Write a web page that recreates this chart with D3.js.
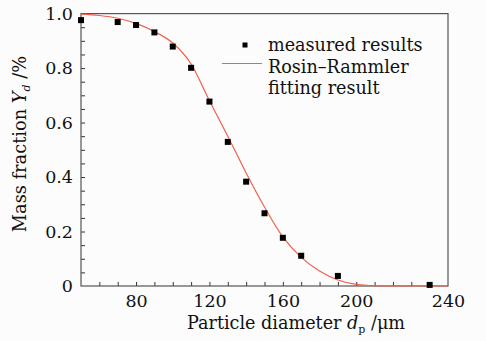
<!DOCTYPE html>
<html>
<head>
<meta charset="utf-8">
<script src="https://cdn.jsdelivr.net/npm/d3@7"></script>
<style>
  html, body { margin: 0; padding: 0; background: #fcfcfc; }
  svg { display: block; font-family: "DejaVu Serif", serif; }
</style>
</head>
<body>
<div id="chart"></div>
<script>
"use strict";

// measured points (particle diameter in um, mass fraction)
var measuredD = [50, 70, 80, 90, 100, 110, 120, 130, 140, 150, 160, 170, 190, 240];
var measuredY = [0.976, 0.969, 0.958, 0.931, 0.879, 0.801, 0.677, 0.529, 0.383, 0.267, 0.177, 0.111, 0.037, 0.004];

// Rosin-Rammler fit
var fitD = [50, 60, 70, 80, 90, 100, 110, 120, 130, 140, 150, 160, 170, 180, 190, 200, 210, 220, 250];
var fitY = [0.998, 0.993, 0.983, 0.964, 0.934, 0.892, 0.815, 0.680, 0.550, 0.415, 0.290, 0.180, 0.105, 0.055, 0.022, 0.006, 0.001, 0, 0];

var xTickValues = [80, 120, 160, 200, 250];
var xTickLabels = ["80", "120", "160", "200", "240"];
var yTickValues = [0, 0.2, 0.4, 0.6, 0.8, 1.0];
var yTickLabels = ["0", "0.2", "0.4", "0.6", "0.8", "1.0"];

var W = 486, H = 341;
var margin = { top: 13.6, right: 38, bottom: 55, left: 81 },
  width = W - margin.left - margin.right,
  height = H - margin.top - margin.bottom;

var x = d3.scaleLinear().domain([50, 250]).range([0, width]);
var y = d3.scaleLinear().domain([0, 1]).range([height, 0]);

var svg = d3
  .select("#chart")
  .append("svg")
  .attr("width", W)
  .attr("height", H);

var g = svg
  .append("g")
  .attr("transform", "translate(" + margin.left + "," + margin.top + ")");

var axisColor = "#333";

// minor ticks, inward
g.append("g")
  .attr("class", "xminor")
  .attr("transform", "translate(0," + height + ")")
  .call(d3.axisBottom(x).tickValues(d3.range(60, 250, 10)).tickSize(-4).tickFormat(""));

g.append("g")
  .attr("class", "yminor")
  .call(d3.axisLeft(y).tickValues(d3.range(0.05, 1, 0.05)).tickSize(-4).tickFormat(""));

// labelled axes
g.append("g")
  .attr("class", "xaxis")
  .attr("transform", "translate(0," + height + ")")
  .call(d3.axisBottom(x).tickValues(xTickValues).tickSize(0).tickPadding(9)
    .tickFormat(function(d, i) { return xTickLabels[i]; }));

g.append("g")
  .attr("class", "yaxis")
  .call(d3.axisLeft(y).tickValues(yTickValues).tickSize(0).tickPadding(8)
    .tickFormat(function(d, i) { return yTickLabels[i]; }));

svg.selectAll(".domain").remove();
svg.selectAll(".tick line").attr("stroke", axisColor).attr("stroke-width", 1);
svg.selectAll(".xaxis text, .yaxis text")
  .attr("fill", "#111")
  .style("font-family", "DejaVu Serif")
  .style("font-size", "17.5px");

// frame
g.append("rect")
  .attr("x", 0)
  .attr("y", 0)
  .attr("width", width)
  .attr("height", height)
  .attr("fill", "none")
  .attr("stroke", "#555")
  .attr("stroke-width", 1.2);

// fit curve
var fitData = fitD.map(function(d, i) { return { d: d, y: fitY[i] }; });
var line = d3.line()
  .x(function(p) { return x(p.d); })
  .y(function(p) { return y(p.y); })
  .curve(d3.curveMonotoneX);

g.append("path")
  .datum(fitData)
  .attr("fill", "none")
  .attr("stroke", "#f0604e")
  .attr("stroke-width", 1.2)
  .attr("d", line);

// measured points
var pts = measuredD.map(function(d, i) { return { d: d, y: measuredY[i] }; });
var sq = 6;
g.selectAll(".pt")
  .data(pts)
  .enter()
  .append("rect")
  .attr("class", "pt")
  .attr("x", function(p) { return x(p.d) - sq / 2; })
  .attr("y", function(p) { return y(p.y) - sq / 2; })
  .attr("width", sq)
  .attr("height", sq)
  .attr("fill", "#000");

// legend
var legend = svg.append("g").style("font-size", "17.6px").attr("fill", "#111");
legend.append("rect")
  .attr("x", 242.5).attr("y", 42.5).attr("width", 5).attr("height", 5).attr("fill", "#000");
legend.append("line")
  .attr("x1", 222).attr("x2", 262).attr("y1", 63.5).attr("y2", 63.5)
  .attr("stroke", "#f0604e").attr("stroke-width", 1.2);
legend.append("text").attr("x", 268).attr("y", 51).text("measured results");
legend.append("text").attr("x", 268).attr("y", 72.5).text("Rosin\u2013Rammler");
legend.append("text").attr("x", 268).attr("y", 94).text("fitting result");

// axis titles
var xt = svg.append("text")
  .attr("x", 296)
  .attr("y", 329)
  .attr("text-anchor", "middle")
  .attr("fill", "#111")
  .style("font-size", "17.6px");
xt.append("tspan").text("Particle diameter ");
xt.append("tspan").style("font-style", "italic").text("d");
xt.append("tspan").attr("dy", 4).style("font-size", "11px").text("p");
xt.append("tspan").attr("dy", -4).text(" /\u03bcm");

var yt = svg.append("text")
  .attr("transform", "translate(26," + 144 + ") rotate(-90)")
  .attr("text-anchor", "middle")
  .attr("fill", "#111")
  .style("font-size", "17.8px");
yt.append("tspan").text("Mass fraction ");
yt.append("tspan").style("font-style", "italic").text("Y");
yt.append("tspan").attr("dy", 4).style("font-size", "11px").style("font-style", "italic").text("d");
yt.append("tspan").attr("dy", -4).text(" /%");
</script>
</body>
</html>
